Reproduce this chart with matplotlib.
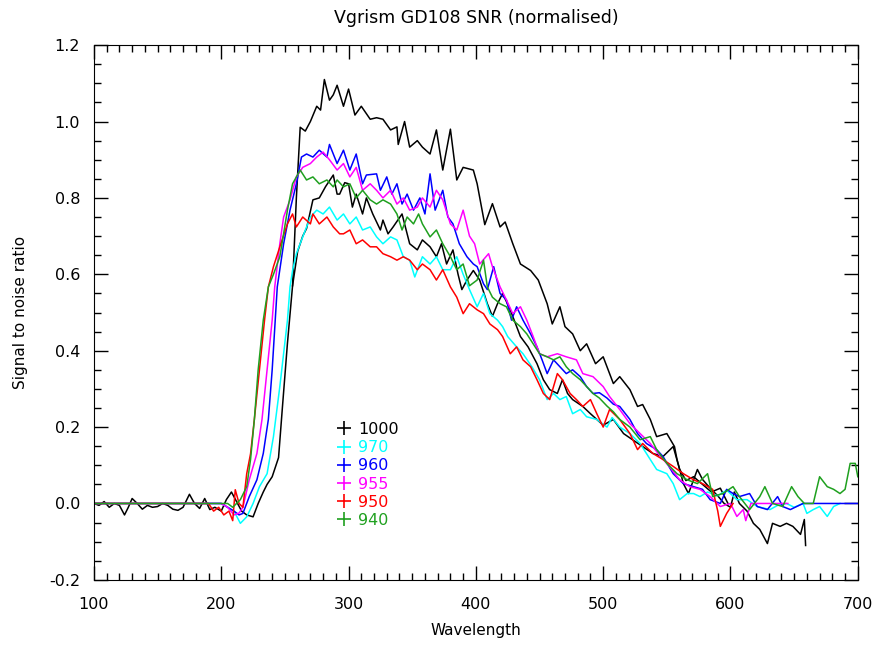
import matplotlib
matplotlib.use("Agg")
import matplotlib.pyplot as plt
from matplotlib.lines import Line2D
from matplotlib.ticker import MultipleLocator, FormatStrFormatter

# ---- data ----
labels = ["1000", "970", "960", "955", "950", "940"]
colors = ["black", "#00ffff", "#0000ff", "#ff00ff", "#ff0000", "#1fa01f"]

wl_1000 = [100, 104, 108, 112, 116, 120, 124, 127, 130, 134, 138, 142, 146, 150, 154, 158, 162, 166, 170,
           175, 179, 183, 187, 191, 195, 200, 204, 208, 212, 216, 220, 225, 229, 233, 236, 240, 245, 248,
           252, 256, 259, 262, 266, 270, 275, 278, 281, 285, 288, 291, 296, 300, 305, 310, 317, 322, 327,
           333, 338, 339, 344, 348, 354, 358, 364, 369, 374, 380, 385, 390, 398, 401, 407, 413, 419, 423,
           429, 435, 443, 449, 456, 460, 466, 470, 476, 482, 487, 494, 500, 508, 513, 521, 527, 531, 537,
           542, 550, 556, 558, 563, 567, 574, 578, 584, 590, 595, 600, 603, 607, 613, 618, 623, 629, 633,
           639, 644, 649, 655, 658, 659]
snr_1000 = [0.0, -0.005, 0.005, -0.01, 0.0, -0.005, -0.03, -0.01, 0.013, 0.0, -0.015, -0.005, -0.01, -0.008,
            0.0, -0.005, -0.015, -0.018, -0.01, 0.024, 0.0, -0.013, 0.013, -0.016, -0.01, -0.02, 0.01, 0.03,
            0.005, -0.02, -0.03, -0.035, 0.0, 0.03, 0.05, 0.07, 0.12, 0.25, 0.42, 0.57, 0.80, 0.985, 0.975,
            1.0, 1.04, 1.03, 1.11, 1.056, 1.07, 1.095, 1.04, 1.085, 1.017, 1.04, 1.006, 1.01, 1.006, 0.978,
            0.986, 0.94, 1.0, 0.933, 0.95, 0.933, 0.915, 0.978, 0.873, 0.98, 0.847, 0.88, 0.873, 0.837, 0.73,
            0.785, 0.724, 0.737, 0.68, 0.627, 0.61, 0.585, 0.523, 0.47, 0.515, 0.463, 0.444, 0.40, 0.418,
            0.366, 0.384, 0.314, 0.332, 0.298, 0.254, 0.259, 0.22, 0.175, 0.183, 0.149, 0.115, 0.052, 0.026,
            0.089, 0.063, 0.04, 0.02, 0.0, -0.01, 0.03, 0.0, -0.02, -0.052, -0.068, -0.105, -0.052, -0.06,
            -0.052, -0.06, -0.081, -0.042, -0.11]

# second (unlabelled) black trace
wl_extra = [256, 260, 264, 267, 272, 277, 282, 288, 291, 293, 297, 300, 303, 306, 311, 314, 319, 325, 327,
            331, 335, 342, 348, 354, 358, 364, 369, 373, 377, 382, 386, 389, 393, 398, 403, 409, 413, 417,
            421, 427, 435, 441, 448, 453, 458, 464, 468, 472, 476, 484, 490, 495, 500, 508, 516, 523, 531,
            539, 547, 555, 560, 565, 571, 578, 585, 592, 598]
snr_extra = [0.57, 0.66, 0.70, 0.72, 0.795, 0.80, 0.83, 0.86, 0.81, 0.81, 0.84, 0.837, 0.776, 0.81, 0.758,
             0.80, 0.758, 0.716, 0.742, 0.706, 0.724, 0.758, 0.68, 0.664, 0.69, 0.672, 0.646, 0.68, 0.627,
             0.664, 0.60, 0.56, 0.585, 0.61, 0.585, 0.523, 0.49, 0.523, 0.55, 0.507, 0.437, 0.41, 0.366,
             0.324, 0.298, 0.288, 0.324, 0.288, 0.272, 0.254, 0.235, 0.22, 0.205, 0.22, 0.183, 0.167, 0.149,
             0.131, 0.123, 0.149, 0.09, 0.06, 0.07, 0.05, 0.03, 0.04, 0.0]

wl_970 = [100, 200, 205, 210, 215, 220, 225, 230, 236, 241, 246, 252, 254, 256, 259, 264, 270, 275, 280, 285,
          291, 296, 301, 306, 311, 317, 322, 327, 333, 338, 343, 348, 352, 358, 364, 369, 374, 380, 385, 390,
          395, 401, 406, 411, 417, 421, 425, 432, 437, 444, 450, 456, 461, 466, 471, 476, 482, 487, 495, 503,
          507, 513, 521, 529, 537, 542, 550, 555, 560, 566, 571, 576, 582, 590, 597, 605, 613, 621, 631, 637,
          644, 650, 657, 660, 665, 670, 676, 681, 686]
snr_970 = [0.0, 0.0, -0.01, -0.02, -0.052, -0.035, 0.0, 0.044, 0.078, 0.175, 0.306, 0.48, 0.567, 0.61, 0.654,
           0.698, 0.75, 0.768, 0.758, 0.776, 0.742, 0.758, 0.732, 0.75, 0.716, 0.724, 0.698, 0.68, 0.698,
           0.69, 0.646, 0.637, 0.593, 0.646, 0.627, 0.646, 0.612, 0.612, 0.646, 0.60, 0.56, 0.515, 0.55,
           0.497, 0.48, 0.463, 0.437, 0.41, 0.392, 0.358, 0.324, 0.272, 0.288, 0.272, 0.28, 0.235, 0.246,
           0.227, 0.22, 0.2, 0.225, 0.2, 0.183, 0.157, 0.115, 0.089, 0.078, 0.052, 0.01, 0.026, 0.026, 0.018,
           0.03, 0.02, 0.035, 0.01, 0.01, -0.008, -0.016, -0.005, 0.0, -0.01, 0.0, -0.026, -0.016, -0.008,
           -0.034, -0.008, 0.0]

wl_960 = [100, 200, 205, 210, 214, 217, 222, 228, 233, 237, 240, 244, 249, 254, 259, 263, 267, 272, 277, 283,
          285, 291, 296, 301, 306, 311, 314, 322, 325, 330, 334, 338, 342, 346, 351, 356, 360, 364, 368, 374,
          378, 382, 387, 393, 398, 401, 406, 409, 414, 419, 424, 428, 432, 437, 443, 448, 452, 456, 461, 466,
          471, 476, 482, 487, 492, 497, 503, 508, 513, 521, 527, 534, 542, 547, 555, 563, 571, 578, 584, 592,
          597, 602, 607, 615, 621, 629, 637, 641, 647, 652, 657, 700]
snr_960 = [0.0, 0.0, -0.01, -0.02, -0.03, -0.026, 0.018, 0.062, 0.131, 0.22, 0.35, 0.567, 0.68, 0.768, 0.837,
           0.907, 0.915, 0.907, 0.925, 0.907, 0.94, 0.89, 0.925, 0.873, 0.915, 0.837, 0.86, 0.863, 0.82,
           0.855, 0.81, 0.837, 0.784, 0.81, 0.768, 0.80, 0.758, 0.863, 0.768, 0.82, 0.75, 0.732, 0.68, 0.646,
           0.627, 0.62, 0.575, 0.56, 0.62, 0.55, 0.533, 0.48, 0.515, 0.48, 0.444, 0.41, 0.376, 0.34, 0.376,
           0.358, 0.34, 0.35, 0.332, 0.306, 0.288, 0.29, 0.276, 0.26, 0.254, 0.22, 0.183, 0.157, 0.141, 0.123,
           0.078, 0.052, 0.044, 0.037, 0.01, 0.0, 0.037, 0.026, 0.018, 0.026, -0.008, -0.016, 0.018, -0.008,
           -0.016, -0.008, 0.0, 0.0]

wl_955 = [100, 200, 205, 210, 214, 217, 222, 228, 232, 236, 240, 242, 246, 249, 254, 259, 264, 270, 275, 280,
          285, 291, 296, 301, 306, 311, 317, 322, 327, 333, 338, 343, 348, 354, 358, 364, 369, 374, 380, 385,
          390, 395, 399, 403, 410, 413, 419, 424, 429, 435, 440, 445, 450, 456, 464, 471, 479, 484, 492, 500,
          505, 513, 521, 529, 537, 545, 552, 560, 568, 576, 584, 592, 600, 605, 610, 612, 616, 645]
snr_955 = [0.0, 0.0, -0.01, -0.03, -0.025, -0.01, 0.062, 0.131, 0.22, 0.35, 0.48, 0.567, 0.68, 0.75, 0.795,
           0.855, 0.88, 0.89, 0.907, 0.92, 0.9, 0.873, 0.89, 0.855, 0.88, 0.82, 0.837, 0.82, 0.80, 0.82,
           0.784, 0.80, 0.768, 0.776, 0.80, 0.776, 0.82, 0.795, 0.732, 0.716, 0.768, 0.70, 0.68, 0.627, 0.654,
           0.62, 0.567, 0.533, 0.497, 0.515, 0.48, 0.437, 0.392, 0.384, 0.392, 0.384, 0.376, 0.34, 0.332,
           0.306, 0.28, 0.246, 0.209, 0.183, 0.157, 0.123, 0.097, 0.062, 0.044, 0.037, 0.018, -0.008, 0.0,
           -0.034, -0.016, -0.045, 0.0, 0.0]

wl_950 = [100, 190, 194, 198, 202, 206, 209, 211, 214, 217, 220, 223, 226, 230, 234, 237, 241, 246, 252, 256,
          259, 264, 270, 272, 277, 283, 288, 293, 296, 301, 306, 311, 317, 322, 327, 333, 338, 343, 348, 354,
          358, 364, 369, 374, 380, 385, 390, 395, 401, 406, 411, 417, 421, 427, 432, 437, 443, 448, 453, 458,
          464, 468, 474, 479, 484, 490, 495, 500, 505, 513, 521, 527, 531, 539, 547, 555, 563, 571, 578, 586,
          590, 592, 597, 602]
snr_950 = [0.0, 0.0, -0.02, -0.01, -0.03, -0.02, -0.045, 0.036, 0.0, -0.01, 0.078, 0.13, 0.22, 0.35, 0.48,
           0.567, 0.62, 0.672, 0.732, 0.758, 0.724, 0.75, 0.732, 0.758, 0.732, 0.75, 0.724, 0.706, 0.706,
           0.716, 0.68, 0.69, 0.672, 0.672, 0.654, 0.646, 0.637, 0.646, 0.637, 0.612, 0.627, 0.612, 0.585,
           0.612, 0.567, 0.54, 0.497, 0.523, 0.507, 0.497, 0.47, 0.455, 0.437, 0.392, 0.41, 0.376, 0.358,
           0.324, 0.288, 0.272, 0.34, 0.324, 0.288, 0.272, 0.254, 0.272, 0.235, 0.2, 0.246, 0.22, 0.183,
           0.141, 0.157, 0.131, 0.115, 0.097, 0.078, 0.062, 0.052, 0.037, -0.02, -0.06, -0.026, 0.0]

wl_940 = [100, 205, 209, 212, 215, 220, 223, 226, 229, 233, 237, 241, 246, 252, 256, 262, 267, 272, 277, 283,
          288, 291, 296, 301, 306, 311, 317, 322, 327, 333, 338, 342, 346, 351, 355, 358, 364, 369, 374, 380,
          385, 390, 395, 401, 406, 409, 413, 419, 424, 429, 435, 440, 445, 450, 456, 461, 466, 471, 476, 482,
          487, 492, 497, 503, 508, 513, 521, 529, 537, 542, 550, 558, 566, 574, 582, 586, 594, 602, 607, 615,
          623, 627, 633, 641, 648, 653, 658, 665, 670, 676, 681, 686, 690, 694, 698, 700]
snr_940 = [0.0, 0.0, -0.01, 0.0, 0.01, 0.044, 0.115, 0.22, 0.35, 0.48, 0.567, 0.6, 0.646, 0.768, 0.837, 0.873,
           0.847, 0.855, 0.837, 0.847, 0.829, 0.847, 0.829, 0.837, 0.80, 0.82, 0.795, 0.784, 0.795, 0.784,
           0.758, 0.716, 0.75, 0.732, 0.758, 0.732, 0.698, 0.716, 0.68, 0.646, 0.612, 0.627, 0.57, 0.585,
           0.637, 0.567, 0.54, 0.523, 0.515, 0.48, 0.463, 0.444, 0.418, 0.392, 0.384, 0.376, 0.384, 0.358,
           0.34, 0.324, 0.306, 0.288, 0.276, 0.255, 0.24, 0.22, 0.2, 0.167, 0.175, 0.141, 0.105, 0.078, 0.062,
           0.052, 0.078, 0.018, 0.026, 0.044, 0.018, -0.016, 0.018, 0.044, 0.0, -0.008, 0.044, 0.018, 0.0,
           0.0, 0.07, 0.044, 0.037, 0.026, 0.037, 0.105, 0.105, 0.07]

series = [(wl_1000, snr_1000), (wl_970, snr_970), (wl_960, snr_960),
          (wl_955, snr_955), (wl_950, snr_950), (wl_940, snr_940)]

plt.rcParams['font.family'] = ['DejaVu Sans']
fig = plt.figure(figsize=(8.78, 6.45), dpi=100)
ax = fig.add_axes([0.107, 0.101, 0.870, 0.829])

ax.plot(wl_extra, snr_extra, color="black", lw=1.1)
for (x, y), c in zip(series, colors):
    ax.plot(x, y, color=c, lw=1.1)

ax.set_xlim(100, 700)
ax.set_ylim(-0.2, 1.2)
ax.xaxis.set_major_locator(MultipleLocator(100))
ax.xaxis.set_minor_locator(MultipleLocator(10))
ax.yaxis.set_major_locator(MultipleLocator(0.2))
ax.yaxis.set_minor_locator(MultipleLocator(0.05))
ax.yaxis.set_major_formatter(FormatStrFormatter('%.1f'))
ax.tick_params(which='both', direction='in', top=True, right=True, labelsize=11.5, width=1)
ax.tick_params(which='major', length=10)
ax.tick_params(which='minor', length=5)
ax.tick_params(axis='x', pad=12)
ax.tick_params(axis='y', pad=10)

ax.set_title("Vgrism GD108 SNR (normalised)", fontsize=12.5, pad=16)
ax.set_xlabel("Wavelength", fontsize=11, labelpad=8)
ax.set_ylabel("Signal to noise ratio", fontsize=11, labelpad=15)

handles = [Line2D([], [], color=c, marker='+', linestyle='none', markersize=10, mew=1.2) for c in colors]
ax.legend(handles, labels, loc='upper left', bbox_to_anchor=(0.305, 0.31), frameon=False,
          labelcolor='linecolor', fontsize=11.5, handletextpad=0.25, labelspacing=0.2,
          handlelength=1.2, borderpad=0)

fig.savefig("out.png", dpi=100)
